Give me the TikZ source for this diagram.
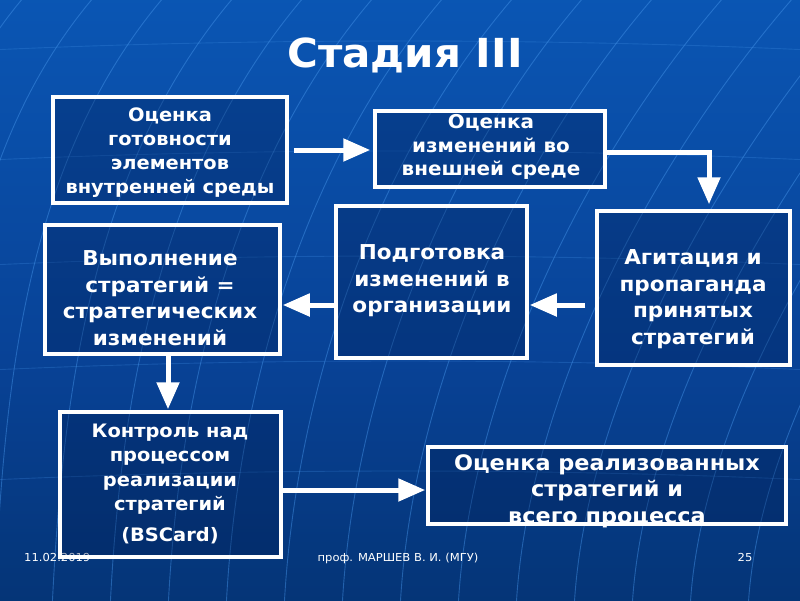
\documentclass[tikz,border=0pt]{standalone}
\usepackage{fontspec}
\setmainfont{DejaVu Sans}[FakeStretch=1.05]
\usetikzlibrary{arrows.meta,calc}
\definecolor{bgtop}{RGB}{12,102,204}
\definecolor{bgmid}{RGB}{8,66,150}
\definecolor{bgbot}{RGB}{0,36,80}
\definecolor{gline}{RGB}{70,150,235}
\definecolor{boxfill}{RGB}{0,25,75}
\pgfdeclareverticalshading{bgshade}{100bp}{color(0bp)=(bgbot); color(45bp)=(bgmid); color(100bp)=(bgtop)}
\tikzset{
  box/.style={draw=white, line width=3.5pt, fill=boxfill, fill opacity=0.3, draw opacity=1, inner sep=0pt},
  txt/.style={text=white, align=center, font=\bfseries\fontsize{18.5}{24}\selectfont, inner sep=0pt},
  bigtxt/.style={txt, font=\bfseries\fontsize{20.5}{26.5}\selectfont},
  arr/.style={draw=white, line width=5pt, shorten >=1pt, -{Triangle[length=27pt, width=22pt, fill=white]}},
  foot/.style={text=white, font=\fontsize{11}{13}\selectfont, inner sep=0pt},
  globe/.style={draw=gline, line width=0.9pt, opacity=0.45}
}
\begin{document}
\begin{tikzpicture}[x=1pt,y=-1pt]
\shade[shading=bgshade] (0,0) rectangle (800,600);
\useasboundingbox (0,0) rectangle (800,600);
\begin{scope}
\clip (0,0) rectangle (800,600);
\foreach \k in {-12,...,10} {
  \draw[globe] ({400+\k*58},610) .. controls ({400+\k*58+10},400) and ({400+\k*70+110},160) .. ({400+\k*70+260},-10);
}
\foreach \yy in {50,160,265,370,480} {
  \draw[globe, opacity=0.25] (-10,\yy) .. controls (250,{\yy-12}) and (550,{\yy-12}) .. (810,\yy);
}
\end{scope}

% title
\node[text=white, font=\bfseries\fontsize{40}{44}\selectfont, inner sep=0pt] (title) at (405,55) {Стадия III};

% footer
\node[foot, anchor=west] (date) at (24,557) {11.02.2019};
\node[foot] (author) at (398,558) {проф. МАРШЕВ В. И. (МГУ)};
\node[foot] (page) at (745,557) {25};

% boxes
\node[box, minimum width=234pt, minimum height=106pt] (b1) at (170,150) {};
\node[box, minimum width=230pt, minimum height=76pt] (b2) at (490,149) {};
\node[box, minimum width=193pt, minimum height=154pt] (b3) at (693.5,288) {};
\node[box, minimum width=191pt, minimum height=152pt] (b4) at (431.5,282) {};
\node[box, minimum width=235pt, minimum height=129pt] (b5) at (162.5,289.5) {};
\node[box, minimum width=221pt, minimum height=145pt] (b6) at (170.5,484.5) {};
\node[box, minimum width=358pt, minimum height=77pt] (b7) at (607,485.5) {};

% texts
\node[txt] (t1) at (170,153) {Оценка\\готовности\\элементов\\внутренней среды};
\node[txt, font=\bfseries\fontsize{19}{23.5}\selectfont] (t2) at (491,147) {Оценка\\изменений во\\внешней среде};
\node[bigtxt] (t3) at (693,299) {Агитация и\\пропаганда\\принятых\\стратегий};
\node[bigtxt] (t4) at (432,281) {Подготовка\\изменений в\\организации};
\node[bigtxt] (t5) at (160,298) {Выполнение\\стратегий =\\стратегических\\изменений};
\node[txt, font=\bfseries\fontsize{18.5}{24.5}\selectfont] (t6) at (170,469) {Контроль над\\процессом\\реализации\\стратегий};
\node[txt, font=\bfseries\fontsize{18.5}{24.5}\selectfont] (t6b) at (170,536) {(BSCard)};
\node[txt, font=\bfseries\fontsize{21.3}{26.5}\selectfont] (t7) at (607,491) {Оценка реализованных\\стратегий и\\всего процесса};

% connectors
\coordinate (r1) at (0,150);
\coordinate (r2) at (0,152);
\coordinate (r3) at (0,305);
\coordinate (r6) at (0,490);
\coordinate (c5) at (168,0);
\coordinate (c3) at (709,0);
\draw[arr] ([xshift=5pt]b1.east |- r1) -- ([xshift=-2pt]b2.west |- r1);
\draw[arr] (b2.east |- r2) -| ([yshift=4pt]b3.north -| c3);
\draw[arr] ([xshift=-10pt]b3.west |- r3) -- (b4.east |- r3);
\draw[arr] (b4.west |- r3) -- (b5.east |- r3);
\draw[arr] (b5.south -| c5) -- (b6.north -| c5);
\draw[arr] (b6.east |- r6) -- (b7.west |- r6);
\end{tikzpicture}
\end{document}
